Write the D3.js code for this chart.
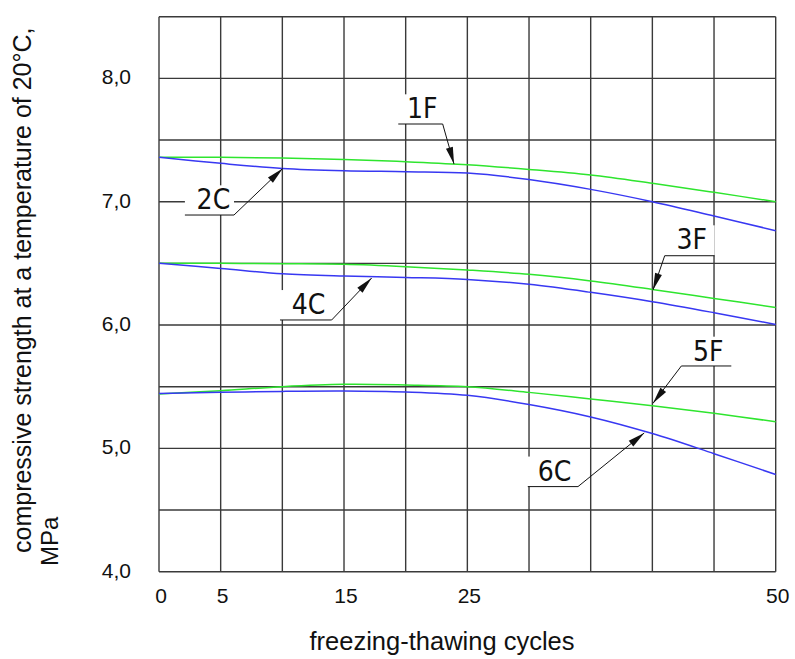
<!DOCTYPE html>
<html>
<head>
<meta charset="utf-8">
<script src="https://cdn.jsdelivr.net/npm/d3@7"></script>
<style>
  html, body { margin: 0; padding: 0; background: #fff; }
  svg { display: block; }
  .tick-label { font-family: "Liberation Sans", Arial, sans-serif; font-size: 21px; fill: #111; }
  .title { font-family: "Liberation Sans", Arial, sans-serif; font-size: 25px; fill: #111; }
  .tag { font-family: "Liberation Sans Narrow", "DejaVu Sans Condensed", "Liberation Sans", sans-serif; font-size: 28px; fill: #111; }
</style>
</head>
<body>
<svg id="chart" width="795" height="659"></svg>
<script>
// freezing-thawing cycles (x) and strength values (MPa)
const cycles = [0, 5, 10, 15, 20, 25, 30, 35, 40, 45, 50];
const s1F = [7.36, 7.36, 7.354, 7.343, 7.324, 7.30, 7.262, 7.216, 7.149, 7.076, 7.0];
const s2C = [7.36, 7.311, 7.27, 7.251, 7.243, 7.232, 7.18, 7.10, 7.0, 6.884, 6.765];
const s3F = [6.5, 6.5, 6.497, 6.492, 6.473, 6.446, 6.411, 6.357, 6.289, 6.216, 6.143];
const s4C = [6.5, 6.459, 6.416, 6.397, 6.386, 6.370, 6.330, 6.265, 6.189, 6.1, 6.005];
const s5F = [5.44, 5.468, 5.5, 5.519, 5.514, 5.5, 5.454, 5.4, 5.346, 5.284, 5.216];
const s6C = [5.445, 5.454, 5.462, 5.465, 5.457, 5.43, 5.356, 5.255, 5.12, 4.957, 4.788];

const xTickLabels = [0, 5, 15, 25, 50];
const yTickLabels = ["4,0", "5,0", "6,0", "7,0", "8,0"];
const yTickValues = [4, 5, 6, 7, 8];

// curve tags: text position, leader underline, arrow tip (all in data units)
const tags = [
  { name: "1F", tx: 20.1, ty: 7.676, u0: 19.4, u1: 23.0, uy: 7.63, from: "right", ax: 23.92, ay: 7.305 },
  { name: "2C", tx: 3.05, ty: 6.938, u0: 2.1, u1: 6.08, uy: 6.892, from: "right", ax: 10.03, ay: 7.27 },
  { name: "3F", tx: 41.95, ty: 6.614, u0: 41.0, u1: 45.05, uy: 6.562, from: "left", ax: 40.05, ay: 6.284 },
  { name: "4C", tx: 10.76, ty: 6.089, u0: 9.81, u1: 14.0, uy: 6.041, from: "right", ax: 17.24, ay: 6.381 },
  { name: "5F", tx: 43.3, ty: 5.711, u0: 42.35, u1: 46.4, uy: 5.668, from: "left", ax: 40.05, ay: 5.365 },
  { name: "6C", tx: 30.7, ty: 4.739, u0: 29.9, u1: 33.97, uy: 4.69, from: "right", ax: 39.34, ay: 5.125 }
];

const green = "#2ee52e";
const blue = "#3838f2";
const series = [
  { values: s1F, color: green }, { values: s2C, color: blue },
  { values: s3F, color: green }, { values: s4C, color: blue },
  { values: s5F, color: green }, { values: s6C, color: blue }
];

const svg = d3.select("#chart");
const x = d3.scaleLinear().domain([0, 50]).range([159, 775.7]);
const y = d3.scaleLinear().domain([4, 8.5]).range([571.7, 16.7]);

// grid
const grid = svg.append("g").attr("stroke", "#3a3a3a").attr("stroke-width", 1.4);
grid.selectAll("line.v").data(d3.range(0, 50.1, 5)).join("line")
  .attr("x1", d => x(d)).attr("x2", d => x(d))
  .attr("y1", y(4)).attr("y2", y(8.5));
grid.selectAll("line.h").data(d3.range(4, 8.51, 0.5)).join("line")
  .attr("y1", d => y(d)).attr("y2", d => y(d))
  .attr("x1", x(0)).attr("x2", x(50));

// white masks behind tags
svg.append("g").selectAll("rect").data(tags).join("rect")
  .attr("x", d => x(d.u0)).attr("width", d => x(d.u1) - x(d.u0))
  .attr("y", d => y(d.ty) - 24).attr("height", d => y(d.uy) - y(d.ty) + 24)
  .attr("fill", "#fff");

// curves
const line = d3.line()
  .x((d, i) => x(cycles[i]))
  .y(d => y(d))
  .curve(d3.curveCatmullRom.alpha(0.5));
svg.append("g").selectAll("path").data(series).join("path")
  .attr("d", d => line(d.values))
  .attr("fill", "none")
  .attr("stroke", d => d.color)
  .attr("stroke-width", 1.5);

// tags with leaders and arrows
const tg = svg.append("g");
tg.selectAll("text").data(tags).join("text")
  .attr("class", "tag")
  .attr("x", d => x(d.tx)).attr("y", d => y(d.ty))
  .text(d => d.name);
tg.selectAll("path.leader").data(tags).join("path")
  .attr("class", "leader")
  .attr("fill", "none").attr("stroke", "#111").attr("stroke-width", 1)
  .attr("d", d => {
    const sx = d.from === "right" ? x(d.u1) : x(d.u0);
    const ex = d.from === "right" ? x(d.u0) : x(d.u1);
    return `M${ex},${y(d.uy)}L${sx},${y(d.uy)}L${x(d.ax)},${y(d.ay)}`;
  });
tg.selectAll("path.head").data(tags).join("path")
  .attr("class", "head")
  .attr("fill", "#111")
  .attr("d", d => {
    const sx = d.from === "right" ? x(d.u1) : x(d.u0);
    const sy = y(d.uy);
    const tx = x(d.ax), ty = y(d.ay);
    const len = Math.hypot(tx - sx, ty - sy);
    const ux = (tx - sx) / len, uy = (ty - sy) / len;
    const bx = tx - ux * 17, by = ty - uy * 17;
    const w = 3.6;
    return `M${tx},${ty}L${bx - uy * w},${by + ux * w}L${bx + uy * w},${by - ux * w}Z`;
  });

// tick labels
svg.append("g").selectAll("text").data(yTickValues).join("text")
  .attr("class", "tick-label")
  .attr("x", 131).attr("y", d => y(d) + 6)
  .attr("text-anchor", "end")
  .text((d, i) => yTickLabels[i]);
svg.append("g").selectAll("text").data(xTickLabels).join("text")
  .attr("class", "tick-label")
  .attr("x", d => x(d) + 2).attr("y", 603)
  .attr("text-anchor", "middle")
  .text(d => d);

// axis titles
svg.append("text").attr("class", "title")
  .attr("x", 442).attr("y", 650)
  .attr("text-anchor", "middle")
  .style("font-size", "25.5px")
  .text("freezing-thawing cycles");
svg.append("text").attr("class", "title")
  .attr("transform", "translate(31,553) rotate(-90)")
  .text("compressive strength at a temperature of 20°C,");
svg.append("text").attr("class", "title")
  .attr("transform", "translate(58,566) rotate(-90)")
  .style("font-size", "24px")
  .text("MPa");
</script>
</body>
</html>
